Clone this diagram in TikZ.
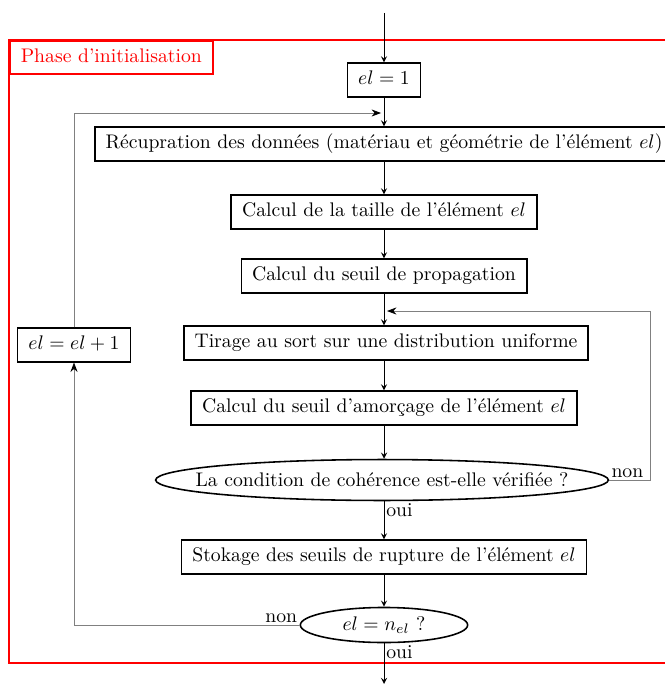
\documentclass[tikz,border=0pt]{standalone}
\usetikzlibrary{positioning, shapes.geometric, arrows.meta}

\begin{document}
\begin{tikzpicture}[
    x=0.508pt, y=-0.508pt,
    box/.style={rectangle, draw, thick, inner xsep=5.5pt, inner ysep=4pt, text height=7pt, text depth=2pt},
    cond/.style={ellipse, draw, thick, inner sep=0pt},
    edge/.style={->, >=stealth},
    back/.style={-{Stealth[black]}, black!50},
    frame/.style={draw=red, line width=1pt}
]
\useasboundingbox (0,0) rectangle (664,684);

% ================= FRAME =================
\draw[frame] (672,40) -- (9,40) -- (9,663) -- (672,663);
\node[box, frame, text=red, anchor=north west] (phase) at (9,40) {Phase d'initialisation};

% ================= MAIN COLUMN =================
\coordinate (start) at (384,13);
\node[box] (init) at (384,80) {$el = 1$};
\node[box] (recup) at (384,144) {Récupration des données (matériau et géométrie de l'élément $el$)};
\node[box] (taille) at (384,212) {Calcul de la taille de l'élément $el$};
\node[box] (propag) at (384,276) {Calcul du seuil de propagation};
\node[box] (tirage) at (386,343) {Tirage au sort sur une distribution uniforme};
\node[box] (amorce) at (384,408) {Calcul du seuil d'amorçage de l'élément $el$};
\node[cond, minimum width=230pt, minimum height=20.8pt, inner xsep=-15pt] (coher) at (382,480) {La condition de cohérence est-elle vérifiée ?};
\node[box] (stock) at (384,557) {Stokage des seuils de rupture de l'élément $el$};
\node[cond, minimum width=85pt, minimum height=17.8pt] (fin) at (384,625) {$el = n_{el}$ ?};
\coordinate (stop) at (384,684);

% ================= LEFT =================
\node[box] (incr) at (74,345) {$el = el + 1$};

\draw[edge] (start) -- (init);
\draw[edge] (init) -- (recup);
\draw[edge] (recup) -- (taille);
\draw[edge] (taille) -- (propag);
\draw[edge] (propag) -- (propag |- tirage.north);
\draw[edge] (tirage.south -| amorce) -- (amorce);
\draw[edge] (amorce) -- (amorce |- coher.north);
\draw[edge] (coher.south -| stock) node[below right, inner sep=1pt] {oui} -- (stock);
\draw[edge] (stock) -- (fin);
\draw[edge] (fin.south) node[below right, inner sep=1pt] {oui} -- (stop);

% ================= LOOPS =================
\coordinate (j1) at (381,113);
\coordinate (j2) at (387,311);
\coordinate (rc) at (650,311);
\draw[back] (incr.north) |- (j1);
\draw[back] (coher.east) node[above right, inner sep=1pt, text=black] {non} -| (rc) -- (j2);
\draw[back] (fin.west) node[above left, inner sep=1pt, text=black] {non} -| (incr.south);

\end{tikzpicture}
\end{document}
